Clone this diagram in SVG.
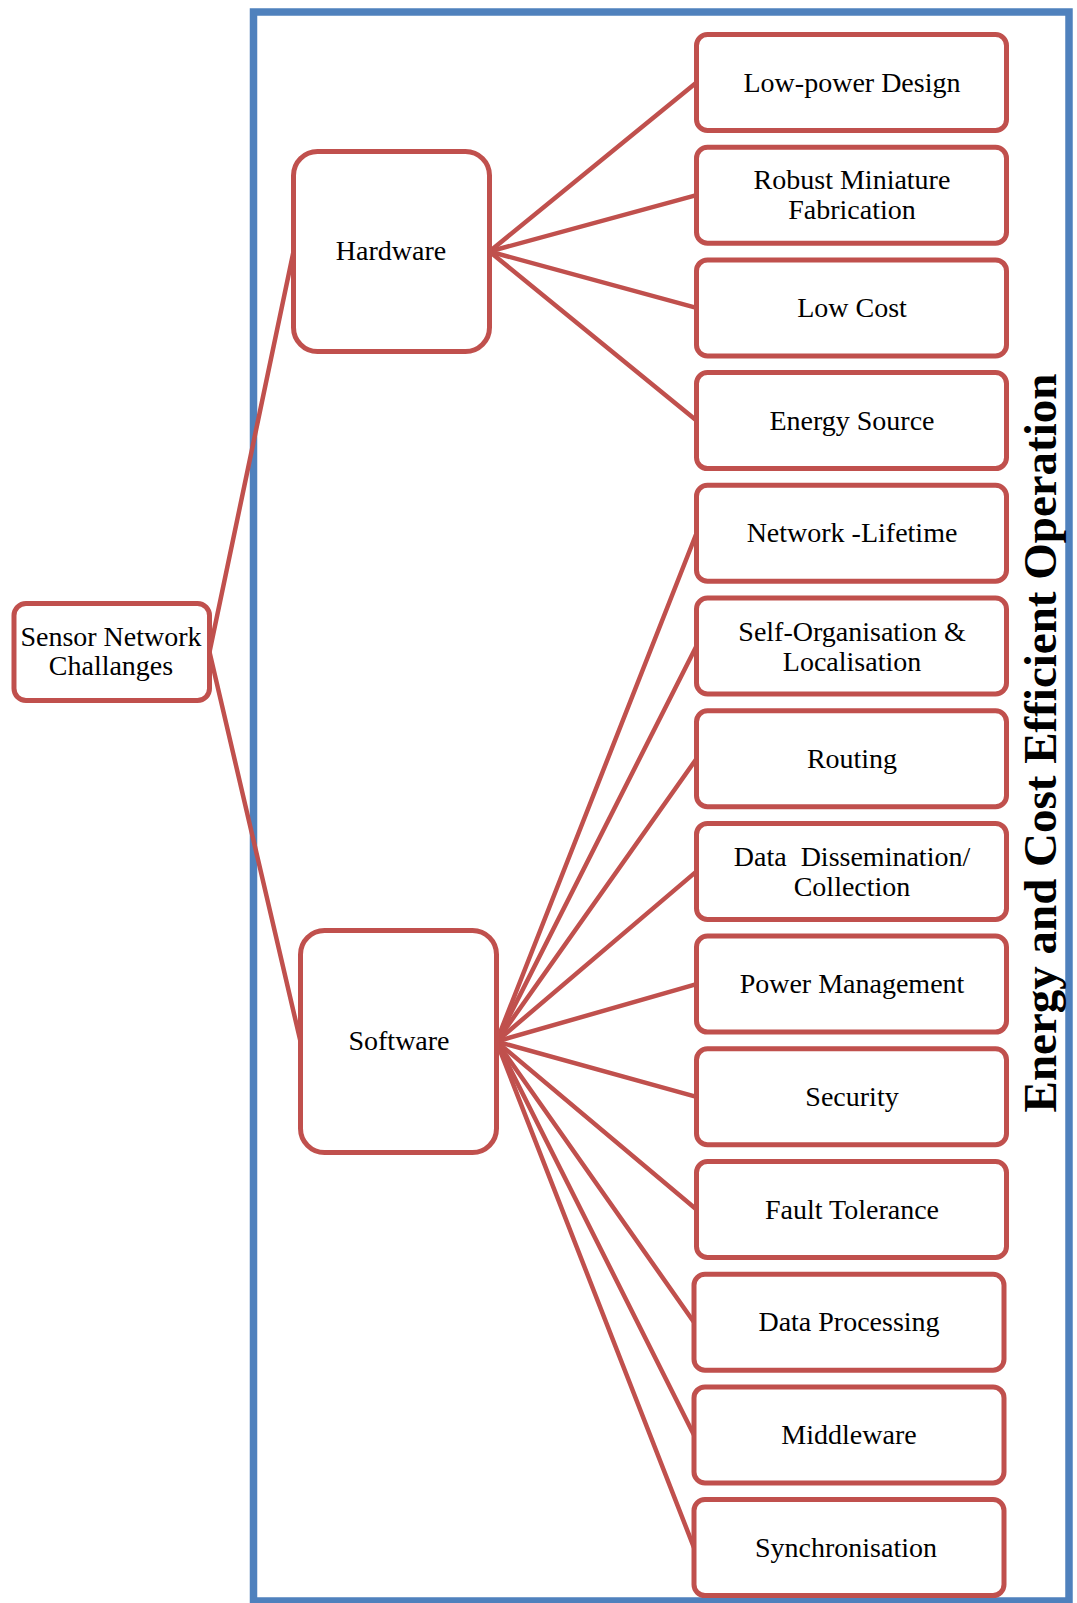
<svg xmlns="http://www.w3.org/2000/svg" width="1077" height="1603" viewBox="0 0 1077 1603">
  <style>
    .frame { fill: none; stroke: #4F81BD; stroke-width: 7.5; }
    .link { fill: none; stroke: #C0504D; stroke-width: 4.5; stroke-linecap: round; }
    .box { fill: #FFFFFF; stroke: #C0504D; stroke-width: 5; }
    .lbl { font-family: "Liberation Serif", "Times New Roman", serif; font-size: 28px; fill: #000000; text-anchor: middle; }
    .side { font-family: "Liberation Serif", "Times New Roman", serif; font-size: 47px; font-weight: bold; fill: #000000; text-anchor: middle; }
  </style>

  <!-- enclosing frame -->
  <rect class="frame" x="253.5" y="12" width="815.5" height="1589"/>

  <!-- connectors -->
  <g id="connectors">
    <line class="link" x1="209.5" y1="652" x2="293.5" y2="251.5"/>
    <line class="link" x1="209.5" y1="652" x2="300.5" y2="1041.5"/>
    <line class="link" x1="489.5" y1="251.5" x2="696.5" y2="82.5"/>
    <line class="link" x1="489.5" y1="251.5" x2="696.5" y2="195.2"/>
    <line class="link" x1="489.5" y1="251.5" x2="696.5" y2="307.9"/>
    <line class="link" x1="489.5" y1="251.5" x2="696.5" y2="420.6"/>
    <line class="link" x1="496.5" y1="1041.5" x2="696.5" y2="533.3"/>
    <line class="link" x1="496.5" y1="1041.5" x2="696.5" y2="646"/>
    <line class="link" x1="496.5" y1="1041.5" x2="696.5" y2="758.7"/>
    <line class="link" x1="496.5" y1="1041.5" x2="696.5" y2="871.4"/>
    <line class="link" x1="496.5" y1="1041.5" x2="696.5" y2="984.1"/>
    <line class="link" x1="496.5" y1="1041.5" x2="696.5" y2="1096.8"/>
    <line class="link" x1="496.5" y1="1041.5" x2="696.5" y2="1209.5"/>
    <line class="link" x1="496.5" y1="1041.5" x2="694" y2="1322.2"/>
    <line class="link" x1="496.5" y1="1041.5" x2="694" y2="1434.9"/>
    <line class="link" x1="496.5" y1="1041.5" x2="694" y2="1547.6"/>
  </g>

  <!-- root -->
  <g id="sensor-network-challanges">
    <rect class="box" x="14" y="603.5" width="195.5" height="97" rx="12"/>
    <text class="lbl" x="111" y="646">Sensor Network</text>
    <text class="lbl" x="111" y="675">Challanges</text>
  </g>

  <!-- branches -->
  <g id="hardware">
    <rect class="box" x="293.5" y="151.5" width="196" height="200" rx="24"/>
    <text class="lbl" x="391" y="260">Hardware</text>
  </g>
  <g id="software">
    <rect class="box" x="300.5" y="930.5" width="196" height="222" rx="24"/>
    <text class="lbl" x="399" y="1050">Software</text>
  </g>

  <!-- hardware leaves -->
  <g id="low-power-design">
    <rect class="box" x="696.5" y="34.5" width="310" height="96" rx="11"/>
    <text class="lbl" x="852" y="91.5">Low-power Design</text>
  </g>
  <g id="robust-miniature-fabrication">
    <rect class="box" x="696.5" y="147.2" width="310" height="96" rx="11"/>
    <text class="lbl" x="852" y="188.5">Robust Miniature</text>
    <text class="lbl" x="852" y="218.5">Fabrication</text>
  </g>
  <g id="low-cost">
    <rect class="box" x="696.5" y="259.9" width="310" height="96" rx="11"/>
    <text class="lbl" x="852" y="316.9">Low Cost</text>
  </g>
  <g id="energy-source">
    <rect class="box" x="696.5" y="372.6" width="310" height="96" rx="11"/>
    <text class="lbl" x="852" y="429.6">Energy Source</text>
  </g>

  <!-- software leaves -->
  <g id="network-lifetime">
    <rect class="box" x="696.5" y="485.3" width="310" height="96" rx="11"/>
    <text class="lbl" x="852" y="542.3">Network -Lifetime</text>
  </g>
  <g id="self-organisation-localisation">
    <rect class="box" x="696.5" y="598" width="310" height="96" rx="11"/>
    <text class="lbl" x="852" y="640.5">Self-Organisation &amp;</text>
    <text class="lbl" x="852" y="670.5">Localisation</text>
  </g>
  <g id="routing">
    <rect class="box" x="696.5" y="710.7" width="310" height="96" rx="11"/>
    <text class="lbl" x="852" y="767.7">Routing</text>
  </g>
  <g id="data-dissemination-collection">
    <rect class="box" x="696.5" y="823.4" width="310" height="96" rx="11"/>
    <text class="lbl" x="852" y="865.9" xml:space="preserve">Data  Dissemination/</text>
    <text class="lbl" x="852" y="895.9">Collection</text>
  </g>
  <g id="power-management">
    <rect class="box" x="696.5" y="936.1" width="310" height="96" rx="11"/>
    <text class="lbl" x="852" y="993.1">Power Management</text>
  </g>
  <g id="security">
    <rect class="box" x="696.5" y="1048.8" width="310" height="96" rx="11"/>
    <text class="lbl" x="852" y="1105.8">Security</text>
  </g>
  <g id="fault-tolerance">
    <rect class="box" x="696.5" y="1161.5" width="310" height="96" rx="11"/>
    <text class="lbl" x="852" y="1218.5">Fault Tolerance</text>
  </g>
  <g id="data-processing">
    <rect class="box" x="694" y="1274.2" width="310" height="96" rx="11"/>
    <text class="lbl" x="849" y="1331.2">Data Processing</text>
  </g>
  <g id="middleware">
    <rect class="box" x="694" y="1386.9" width="310" height="96" rx="11"/>
    <text class="lbl" x="849" y="1443.9">Middleware</text>
  </g>
  <g id="synchronisation">
    <rect class="box" x="694" y="1499.6" width="310" height="96" rx="11"/>
    <text class="lbl" x="846" y="1556.6">Synchronisation</text>
  </g>

  <!-- vertical caption along the right edge -->
  <text class="side" transform="translate(1056 743) rotate(-90)" x="0" y="0">Energy and Cost Efficient Operation</text>
</svg>
